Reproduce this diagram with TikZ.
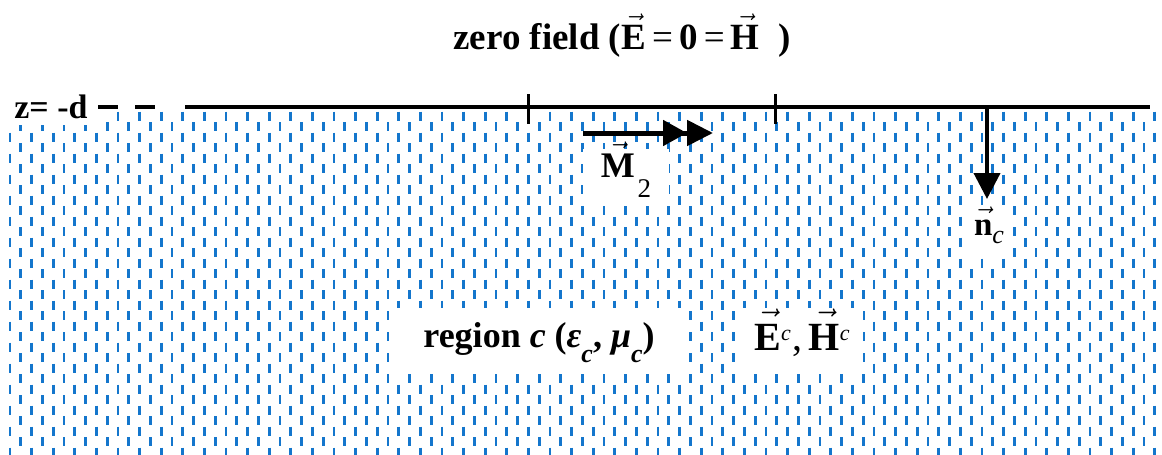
\documentclass[tikz,border=0pt]{standalone}
\usepackage{amsmath}
\usepackage{fontspec}
\setmainfont{Liberation Serif}
\usetikzlibrary{arrows.meta}
\definecolor{padblue}{RGB}{20,118,204}
% bold letter with a small arrow above it
\newcommand{\bv}[1]{%
  \setbox0=\hbox{\textbf{#1}}%
  \rlap{\hbox to \wd0{\hss\raisebox{\dimexpr\ht0-1ex+0.1em\relax}{\smash{$\mathchar"017E$}}\hss}}%
  \box0}
\newcommand{\lowc}[3]{\raisebox{#1}{\fontsize{#2}{#2}\selectfont #3}}

\begin{document}
\begin{tikzpicture}[x=0.5pt,y=-0.5pt,
    padash/.style={padblue, line width=1.4pt},
    whitebox/.style={fill=white, inner sep=0pt},
    bdline/.style={black, line width=2pt}]
\useasboundingbox (0,0) rectangle (1162,455);
% dashed filling of region c
\begin{scope}
\clip (4,109) rectangle (1160,455);
\foreach \i in {0,...,106}{
  \foreach \j in {0,...,16}{
    \pgfmathsetmacro{\xx}{10+10.8*\i}
    \pgfmathsetmacro{\yy}{116+21*\j+10.5*mod(\i,2)}
    \draw[padash] (\xx,\yy-4.5) -- (\xx,\yy+4.5);
  }
}
\end{scope}
% boundary z=-d
\node[whitebox, minimum width=47pt, minimum height=18pt, font=\fontsize{17}{17}\selectfont\bfseries] (zd) at (51,107) {z= -d};
\coordinate (L0) at (185,107);
\coordinate (L1) at (1150,107);
\coordinate (L2) at (155,107);
\draw[bdline] (L0) -- (L1);
\draw[bdline, dash pattern=on 10pt off 8.5pt] (zd.east) -- (L2);
\foreach \t in {528,775}
  \draw[black, line width=1.5pt] (\t,94) -- (\t,124);
% magnetic current M_2
\coordinate (M0) at (583,133);
\coordinate (M1) at (713,133);
\draw[black, line width=2.5pt, -{Triangle[length=12pt,width=12.5pt] Triangle[length=13pt,width=12.5pt]}] (M0) -- (M1);
\node[whitebox, minimum width=43pt, minimum height=28pt, text height=11pt, text depth=11pt, font=\fontsize{18}{18}\selectfont] (m2) at (626,177) {\bv{M}\kern1.5pt\lowc{-10pt}{13.5}{2}};
% normal n_c
\coordinate (N0) at (987,107);
\coordinate (N1) at (987,199);
\draw[black, line width=2pt, -{Triangle[length=13pt,width=13pt]}] (N0) -- (N1);
\node[whitebox, minimum width=22pt, minimum height=26pt, text height=8pt, text depth=4pt, font=\fontsize{16.5}{18}\selectfont] (nc) at (989,231) {\bv{n}\lowc{-4pt}{13}{\textit{c}}};
% labels
\node[font=\fontsize{18.5}{20}\selectfont\bfseries] (title) at (622,40) {zero field (\bv{E}\,{\mdseries=}\,0\,{\mdseries=}\,\bv{H}\ \ )};
\node[whitebox, minimum width=148.5pt, minimum height=32.5pt, text height=12pt, text depth=5pt, font=\fontsize{18}{20}\selectfont\bfseries] (rc) at (539,340) {region \textit{c} (\textit{ε}\lowc{-7.5pt}{13}{\textit{c}}, \textit{μ}\lowc{-7.5pt}{13}{\textit{c}})};
\node[whitebox, minimum width=60.5pt, minimum height=32.5pt, text height=14pt, text depth=4pt, font=\fontsize{20}{22}\selectfont] (fc) at (802,340) {\bv{E}\lowc{5pt}{11}{\textit{c}}\kern1pt,\kern3pt\bv{H}\lowc{5pt}{11}{\textit{c}}};
\end{tikzpicture}
\end{document}
